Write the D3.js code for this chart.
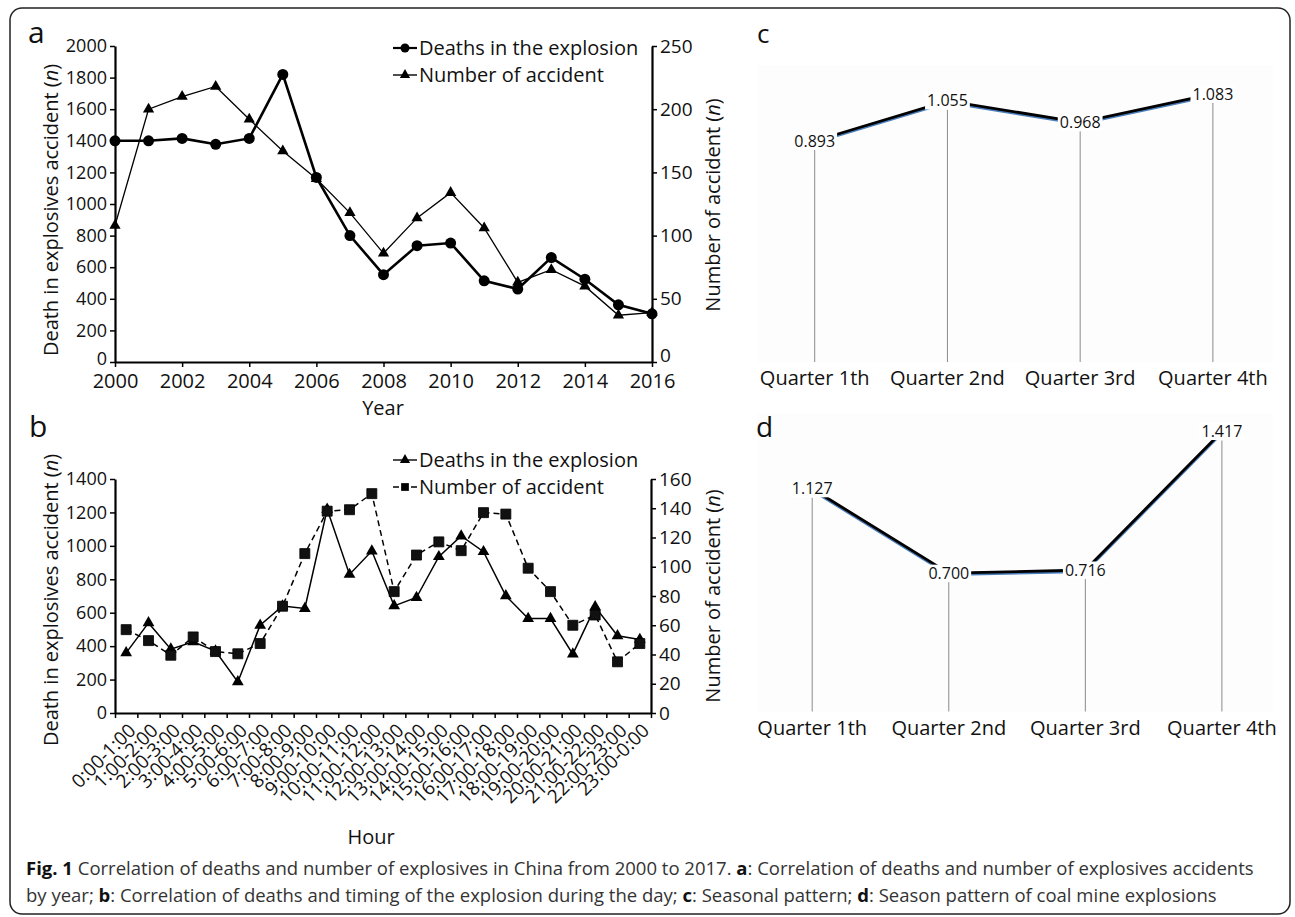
<!DOCTYPE html>
<html>
<head>
<meta charset="utf-8">
<script src="https://cdn.jsdelivr.net/npm/d3@7"></script>
<style>
  body { margin: 0; background: #fff; }
  svg { display: block; }
</style>
</head>
<body>
<script>
var years = [2000, 2001, 2002, 2003, 2004, 2005, 2006, 2007, 2008, 2009, 2010, 2011, 2012, 2013, 2014, 2015, 2016];
var yearTicks = [2000, 2002, 2004, 2006, 2008, 2010, 2012, 2014, 2016];
var yearDeaths = [1400, 1400, 1415, 1378, 1415, 1820, 1168, 800, 553, 736, 753, 514, 462, 661, 524, 362, 305];
var yearAccidents = [108, 200, 210, 218, 192, 167, 145, 118, 86, 114, 134, 106, 63, 73, 60, 37, 39];
var deathTicksA = [0, 200, 400, 600, 800, 1000, 1200, 1400, 1600, 1800, 2000];
var accTicksA = [0, 50, 100, 150, 200, 250];

var hours = ['0:00-1:00', '1:00-2:00', '2:00-3:00', '3:00-4:00', '4:00-5:00', '5:00-6:00',
	'6:00-7:00', '7:00-8:00', '8:00-9:00', '9:00-10:00', '10:00-11:00', '11:00-12:00',
	'12:00-13:00', '13:00-14:00', '14:00-15:00', '15:00-16:00', '16:00-17:00', '17:00-18:00',
	'18:00-19:00', '19:00-20:00', '20:00-21:00', '21:00-22:00', '22:00-23:00', '23:00-0:00'];
var hourDeaths = [360, 539, 382, 426, 370, 186, 525, 640, 625, 1219, 829, 969,
	641, 691, 935, 1059, 965, 701, 565, 565, 352, 635, 462, 440];
var hourAccidents = [57, 49.5, 39.5, 52, 42, 40.5, 47.5, 73, 109, 138, 139, 150,
	83, 108, 117, 111, 137, 136, 99, 83, 60, 67, 35, 47.5];
var deathTicksB = [0, 200, 400, 600, 800, 1000, 1200, 1400];
var accTicksB = [0, 20, 40, 60, 80, 100, 120, 140, 160];

var quarters = ['Quarter 1th', 'Quarter 2nd', 'Quarter 3rd', 'Quarter 4th'];
var seasonAll = [0.893, 1.055, 0.968, 1.083];
var seasonCoal = [1.127, 0.700, 0.716, 1.417];

var FONT = "'Open Sans', 'DejaVu Sans', sans-serif";

var svg = d3.select('body').append('svg')
	.attr('width', 1295)
	.attr('height', 917)
	.attr('font-family', FONT);

// outer frame
svg.append('rect')
	.attr('x', 10).attr('y', 8)
	.attr('width', 1280).attr('height', 906)
	.attr('rx', 12)
	.attr('fill', '#fff')
	.attr('stroke', '#222')
	.attr('stroke-width', 1.5);

function styleAxis(g, size) {
	g.attr('font-family', FONT).attr('font-size', size);
	g.select('.domain').attr('stroke', '#000').attr('stroke-width', 2.2);
	g.selectAll('.tick line').attr('stroke', '#000').attr('stroke-width', 1.5);
	g.selectAll('.tick text').attr('fill', '#111');
}

// lift the "0" label a little so it clears the year labels below
function liftZero(g, dy) {
	g.selectAll('.tick text').filter(function(d) { return d === 0; }).attr('dy', dy);
}

function panelLetter(t, x, y, size) {
	svg.append('text').attr('x', x).attr('y', y)
		.attr('font-size', size).attr('fill', '#111').text(t);
}

function legendRow(x, y, label, marker, dashed) {
	var g = svg.append('g');
	g.append('line').attr('x1', x).attr('x2', x + 24).attr('y1', y).attr('y2', y)
		.attr('stroke', '#000').attr('stroke-width', marker === 'circle' ? 2.2 : 1.4)
		.attr('stroke-dasharray', dashed ? '6,12' : null);
	if (marker === 'circle') {
		g.append('circle').attr('cx', x + 12).attr('cy', y).attr('r', 4.5).attr('fill', '#000');
	} else {
		var sym = marker === 'square' ? d3.symbolSquare : d3.symbolTriangle;
		g.append('path').attr('d', d3.symbol(sym).size(marker === 'square' ? 60 : 45)())
			.attr('transform', 'translate(' + (x + 12) + ',' + y + ')').attr('fill', '#000');
	}
	g.append('text').attr('x', x + 26).attr('y', y).attr('dy', '.35em')
		.attr('font-size', 20).attr('fill', '#111').text(label);
}

// ---------- panel a ----------
var xa = d3.scaleLinear().domain([2000, 2016]).range([115, 652]);
var yaL = d3.scaleLinear().domain([0, 2000]).range([362, 46]);
var yaR = d3.scaleLinear().domain([0, 250]).range([362, 46]);

svg.append('g').attr('transform', 'translate(115,0)')
	.call(d3.axisLeft(yaL).tickValues(deathTicksA).tickFormat(d3.format('d')).tickSize(5).tickSizeOuter(0).tickPadding(3))
	.call(styleAxis, 18)
	.call(liftZero, '0.12em');
svg.append('g').attr('transform', 'translate(652,0)')
	.call(d3.axisRight(yaR).tickValues(accTicksA).tickSize(5).tickSizeOuter(0).tickPadding(3))
	.call(styleAxis, 19)
	.call(liftZero, '-0.05em');
svg.append('g').attr('transform', 'translate(0,362)')
	.call(d3.axisBottom(xa).tickValues(yearTicks).tickFormat(d3.format('d')).tickSize(5).tickSizeOuter(0).tickPadding(7))
	.call(styleAxis, 20);

var lineAcc = d3.line().x(function(d, i) { return xa(years[i]); }).y(function(d) { return yaR(d); });
var lineDeath = d3.line().x(function(d, i) { return xa(years[i]); }).y(function(d) { return yaL(d); });

svg.append('path').datum(yearAccidents).attr('d', lineAcc)
	.attr('fill', 'none').attr('stroke', '#000').attr('stroke-width', 1.3);
svg.selectAll('.triA').data(yearAccidents).enter().append('path')
	.attr('d', d3.symbol(d3.symbolTriangle).size(55)())
	.attr('transform', function(d, i) { return 'translate(' + xa(years[i]) + ',' + yaR(d) + ')'; })
	.attr('fill', '#000');

svg.append('path').datum(yearDeaths).attr('d', lineDeath)
	.attr('fill', 'none').attr('stroke', '#000').attr('stroke-width', 2.6);
svg.selectAll('.dotA').data(yearDeaths).enter().append('circle')
	.attr('cx', function(d, i) { return xa(years[i]); })
	.attr('cy', function(d) { return yaL(d); })
	.attr('r', 5.5).attr('fill', '#000');

panelLetter('a', 28, 43, 30);
legendRow(393, 48, 'Deaths in the explosion', 'circle', false);
legendRow(393, 75, 'Number of accident', 'triangle', false);

svg.append('text').attr('x', 383).attr('y', 415).attr('text-anchor', 'middle')
	.attr('font-size', 20).attr('fill', '#111').text('Year');

function yTitle(x, y, parts) {
	var t = svg.append('text').attr('transform', 'translate(' + x + ',' + y + ') rotate(-90)')
		.attr('text-anchor', 'middle').attr('dy', '.35em').attr('font-size', 20).attr('fill', '#111');
	t.append('tspan').text(parts[0]);
	t.append('tspan').attr('font-style', 'italic').text('n');
	t.append('tspan').text(')');
}
yTitle(51, 210, ['Death in explosives accident (']);
yTitle(713, 205, ['Number of accident (']);

// ---------- panel b ----------
var xb = d3.scaleBand().domain(hours).range([115, 651]);
var xbTicks = d3.scaleLinear().domain([0, hours.length]).range([115, 651]);
var ybL = d3.scaleLinear().domain([0, 1400]).range([713, 479]);
var ybR = d3.scaleLinear().domain([0, 160]).range([713, 479]);
function cx(h) { return xb(h) + xb.bandwidth() / 2; }

svg.append('g').attr('transform', 'translate(115,0)')
	.call(d3.axisLeft(ybL).tickValues(deathTicksB).tickFormat(d3.format('d')).tickSize(5).tickSizeOuter(0).tickPadding(3))
	.call(styleAxis, 18);
svg.append('g').attr('transform', 'translate(651,0)')
	.call(d3.axisRight(ybR).tickValues(accTicksB).tickSize(5).tickSizeOuter(0).tickPadding(3))
	.call(styleAxis, 19);
svg.append('g').attr('transform', 'translate(0,713)')
	.call(d3.axisBottom(xbTicks).tickValues(d3.range(hours.length + 1)).tickFormat('').tickSize(5).tickSizeOuter(0))
	.call(styleAxis, 18);

svg.selectAll('.hourLabel').data(hours).enter().append('text')
	.attr('transform', function(d) { return 'translate(' + (cx(d) + 6) + ',727) rotate(-45)'; })
	.attr('text-anchor', 'end').attr('dy', '.35em')
	.attr('font-size', 19).attr('fill', '#111')
	.text(function(d) { return d; });

var lineHD = d3.line().x(function(d, i) { return cx(hours[i]); }).y(function(d) { return ybL(d); });
var lineHA = d3.line().x(function(d, i) { return cx(hours[i]); }).y(function(d) { return ybR(d); });

svg.append('path').datum(hourDeaths).attr('d', lineHD)
	.attr('fill', 'none').attr('stroke', '#000').attr('stroke-width', 1.5);
svg.selectAll('.triB').data(hourDeaths).enter().append('path')
	.attr('d', d3.symbol(d3.symbolTriangle).size(60)())
	.attr('transform', function(d, i) { return 'translate(' + cx(hours[i]) + ',' + ybL(d) + ')'; })
	.attr('fill', '#000');

svg.append('path').datum(hourAccidents).attr('d', lineHA)
	.attr('fill', 'none').attr('stroke', '#000').attr('stroke-width', 1.5)
	.attr('stroke-dasharray', '6,4');
svg.selectAll('.sqB').data(hourAccidents).enter().append('path')
	.attr('d', d3.symbol(d3.symbolSquare).size(100)())
	.attr('transform', function(d, i) { return 'translate(' + cx(hours[i]) + ',' + ybR(d) + ')'; })
	.attr('fill', '#111').attr('stroke', '#000').attr('stroke-width', 0.8);

panelLetter('b', 29, 437, 30);
legendRow(393, 460, 'Deaths in the explosion', 'triangle', false);
legendRow(393, 487, 'Number of accident', 'square', true);

svg.append('text').attr('x', 371).attr('y', 844).attr('text-anchor', 'middle')
	.attr('font-size', 20).attr('fill', '#111').text('Hour');

yTitle(51, 600, ['Death in explosives accident (']);
yTitle(713, 596, ['Number of accident (']);

// ---------- panels c and d ----------
function seasonPanel(values, xr, y0, y1, vmax, top) {
	var x = d3.scalePoint().domain(quarters).range(xr);
	var y = d3.scaleLinear().domain([0, vmax]).range([y0, y1]);
	var g = svg.append('g');

	g.append('rect').attr('x', 757).attr('y', top).attr('width', 516).attr('height', y0 - top)
		.attr('fill', '#fdfdfd');

	var labels = g.selectAll('.val').data(values).enter().append('g')
		.attr('transform', function(d, i) { return 'translate(' + x(quarters[i]) + ',' + y(d) + ')'; });

	g.selectAll('.drop').data(values).enter().append('line')
		.attr('x1', function(d, i) { return x(quarters[i]); })
		.attr('x2', function(d, i) { return x(quarters[i]); })
		.attr('y1', function(d) { return y(d) + 9; })
		.attr('y2', y0)
		.attr('stroke', '#8a8a8a').attr('stroke-width', 1);

	var ln = d3.line().x(function(d, i) { return x(quarters[i]); }).y(function(d) { return y(d); });
	g.append('path').datum(values).attr('d', ln).attr('transform', 'translate(0,1.6)')
		.attr('fill', 'none').attr('stroke', '#4a7ebb').attr('stroke-width', 2.6);
	g.append('path').datum(values).attr('d', ln)
		.attr('fill', 'none').attr('stroke', '#000').attr('stroke-width', 2.8);

	labels.raise();
	labels.append('rect').attr('fill', '#fff');
	var txt = labels.append('text').attr('text-anchor', 'middle').attr('dy', '.35em')
		.attr('font-size', 16).attr('fill', '#111')
		.text(function(d) { return d3.format('.3f')(d); });
	txt.each(function() {
		var b = this.getBBox();
		d3.select(this.previousSibling)
			.attr('x', b.x - 2).attr('y', -8.5).attr('width', b.width + 4).attr('height', 17);
	});

	g.selectAll('.q').data(quarters).enter().append('text')
		.attr('x', function(d) { return x(d); })
		.attr('y', y0 + 16).attr('dy', '.35em')
		.attr('text-anchor', 'middle').attr('font-size', 20).attr('fill', '#111')
		.text(function(d) { return d; });
}

seasonPanel(seasonAll, [814.7, 1212.9], 362, 65, 1.2, 65);
seasonPanel(seasonCoal, [812.2, 1221.9], 711.5, 415.1, 1.5, 413);

panelLetter('c', 757, 43, 26);
panelLetter('d', 756, 437, 28);

// ---------- caption ----------
var cap1 = svg.append('text').attr('x', 26).attr('y', 875).attr('font-size', 18.5).attr('fill', '#333');
cap1.append('tspan').attr('font-weight', 'bold').attr('fill', '#111').text('Fig. 1');
cap1.append('tspan').text(' Correlation of deaths and number of explosives in China from 2000 to 2017. ');
cap1.append('tspan').attr('font-weight', 'bold').attr('fill', '#111').text('a');
cap1.append('tspan').text(': Correlation of deaths and number of explosives accidents');

var cap2 = svg.append('text').attr('x', 26).attr('y', 902).attr('font-size', 18.5).attr('fill', '#333');
cap2.append('tspan').text('by year; ');
cap2.append('tspan').attr('font-weight', 'bold').attr('fill', '#111').text('b');
cap2.append('tspan').text(': Correlation of deaths and timing of the explosion during the day; ');
cap2.append('tspan').attr('font-weight', 'bold').attr('fill', '#111').text('c');
cap2.append('tspan').text(': Seasonal pattern; ');
cap2.append('tspan').attr('font-weight', 'bold').attr('fill', '#111').text('d');
cap2.append('tspan').text(': Season pattern of coal mine explosions');
</script>
</body>
</html>
